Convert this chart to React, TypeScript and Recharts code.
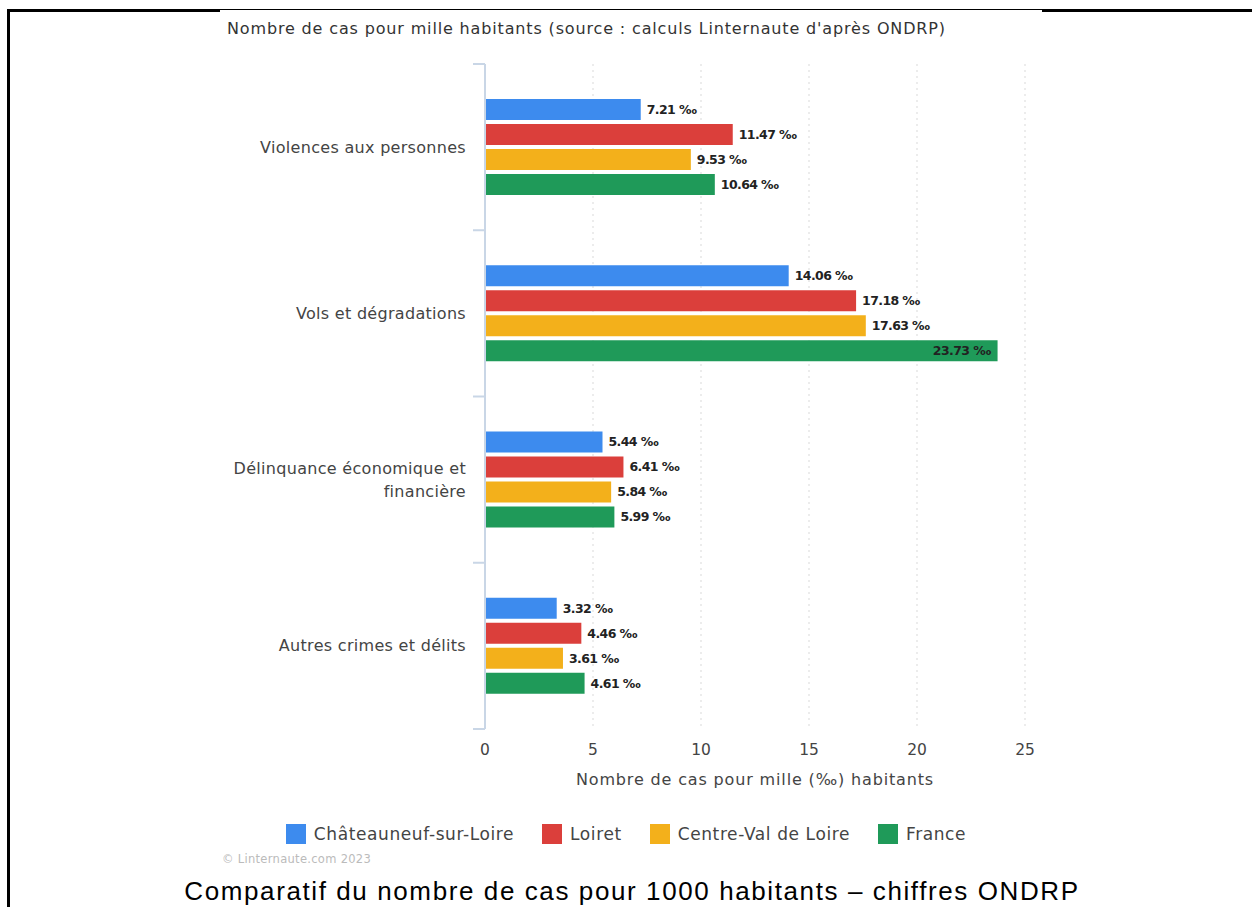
import React from 'react'
import { BarChart, Bar, XAxis, YAxis, CartesianGrid, LabelList } from 'recharts'

const categories = [
  'Violences aux personnes',
  'Vols et dégradations',
  'Délinquance économique et financière',
  'Autres crimes et délits',
]
const chateauneuf = [7.21, 14.06, 5.44, 3.32]
const loiret = [11.47, 17.18, 6.41, 4.46]
const centreVdl = [9.53, 17.63, 5.84, 3.61]
const france = [10.64, 23.73, 5.99, 4.61]
const seriesNames = ['Châteauneuf-sur-Loire', 'Loiret', 'Centre-Val de Loire', 'France']
const seriesColors = ['#3d8bee', '#db3f3b', '#f3b01b', '#1f9a59']
const xTicks = [0, 5, 10, 15, 20, 25]

const FONT = '"DejaVu Sans", sans-serif'
const AXIS_COLOR = '#c9d6e6'

// chart geometry
const CHART_W = 820
const CHART_H = 800
const MARGIN = { top: 64, right: 15, left: 0, bottom: 11 }
const X_AXIS_H = 60
const Y_AXIS_W = 265
const PLOT_H = CHART_H - MARGIN.top - MARGIN.bottom - X_AXIS_H
const BAND = PLOT_H / categories.length
const LABEL_GAP = 19

const data = categories.map((name, i) => ({
  name,
  s0: chateauneuf[i],
  s1: loiret[i],
  s2: centreVdl[i],
  s3: france[i],
}))

// wraps long category names like the original (max ~25 chars per line)
const wrap = (s: string, max = 25) => {
  const lines: string[] = []
  let cur = ''
  s.split(' ').forEach((w) => {
    const next = cur ? cur + ' ' + w : w
    if (next.length > max && cur) {
      lines.push(cur)
      cur = w
    } else cur = next
  })
  if (cur) lines.push(cur)
  return lines
}

const CatTick = (props: any) => {
  const { x, y, payload, index } = props
  const lines = wrap(payload.value)
  const lh = 23
  const start = y - ((lines.length - 1) * lh) / 2
  const ax = x + LABEL_GAP
  return (
    <g>
      {/* tick marks on the category boundaries */}
      <line x1={ax - 12} x2={ax} y1={y - BAND / 2} y2={y - BAND / 2} stroke={AXIS_COLOR} strokeWidth={2} />
      {index === categories.length - 1 && (
        <line x1={ax - 12} x2={ax} y1={y + BAND / 2} y2={y + BAND / 2} stroke={AXIS_COLOR} strokeWidth={2} />
      )}
      <text x={x} textAnchor="end" fill="#444" fontSize={16} letterSpacing={0.3} fontFamily={FONT}>
        {lines.map((l, i) => (
          <tspan key={i} x={x} y={start + i * lh} dy="0.35em">
            {l}
          </tspan>
        ))}
      </text>
    </g>
  )
}

const ValueLabel = (props: any) => {
  const { x, y, width, height, value } = props
  const txt = value.toFixed(2) + ' ‰'
  const inside = value > 22
  return (
    <text
      x={inside ? x + width - 7 : x + width + 6}
      y={y + height / 2}
      dy="0.35em"
      textAnchor={inside ? 'end' : 'start'}
      fill="#222"
      fontSize={12.5}
      fontWeight={700}
      fontFamily={FONT}
      letterSpacing={-0.6}
    >
      {txt}
    </text>
  )
}

const App = () => {
  return (
    <div style={{ position: 'fixed', left: 0, top: 0, width: 1253, height: 907, background: '#fff', overflow: 'hidden', fontFamily: FONT }}>
      {/* frame lines */}
      <div style={{ position: 'absolute', left: 7, top: 9, width: 3, height: 898, background: '#000' }} />
      <div style={{ position: 'absolute', left: 7, top: 9, width: 213, height: 3, background: '#000' }} />
      <div style={{ position: 'absolute', left: 220, top: 9, width: 822, height: 1, background: '#000' }} />
      <div style={{ position: 'absolute', left: 1042, top: 9, width: 210, height: 3, background: '#000' }} />

      <div style={{ position: 'absolute', left: 227, top: 19, fontSize: 16, letterSpacing: 0.85, color: '#333', whiteSpace: 'nowrap' }}>
        Nombre de cas pour mille habitants (source : calculs Linternaute d'après ONDRP)
      </div>

      <div style={{ position: 'absolute', left: 220, top: 0 }}>
        <BarChart
          width={CHART_W}
          height={CHART_H}
          data={data}
          layout="vertical"
          margin={MARGIN}
          barSize={21}
          barGap={4}
        >
          <CartesianGrid horizontal={false} stroke="#d9d9d9" strokeDasharray="2 4" />
          <XAxis
            type="number"
            domain={[0, 25]}
            ticks={xTicks}
            axisLine={false}
            tickLine={false}
            tickSize={0}
            tickMargin={15}
            height={X_AXIS_H}
            tick={{ fill: '#444', fontSize: 15.5, fontFamily: FONT }}
            label={{ value: 'Nombre de cas pour mille (‰) habitants', position: 'insideBottom', offset: 4, fill: '#444', fontSize: 16, letterSpacing: 0.85, fontFamily: FONT }}
          />
          <YAxis
            type="category"
            dataKey="name"
            width={Y_AXIS_W}
            axisLine={{ stroke: AXIS_COLOR, strokeWidth: 2 }}
            tickLine={false}
            tickSize={0}
            tickMargin={LABEL_GAP}
            tick={<CatTick />}
          />
          {['s0', 's1', 's2', 's3'].map((k, i) => (
            <Bar key={k} dataKey={k} name={seriesNames[i]} fill={seriesColors[i]} isAnimationActive={false}>
              <LabelList dataKey={k} content={<ValueLabel />} />
            </Bar>
          ))}
        </BarChart>
      </div>

      <div
        style={{
          position: 'absolute',
          left: 220,
          top: 824,
          width: 812,
          display: 'flex',
          justifyContent: 'center',
          gap: 28,
          fontSize: 17,
          letterSpacing: 0.6,
          color: '#444',
        }}
      >
        {seriesNames.map((n, i) => (
          <div key={n} style={{ display: 'flex', alignItems: 'center', gap: 8 }}>
            <span style={{ width: 20, height: 20, background: seriesColors[i], display: 'inline-block' }} />
            <span>{n}</span>
          </div>
        ))}
      </div>

      <div style={{ position: 'absolute', left: 222, top: 852, fontSize: 11.5, letterSpacing: 0.3, color: '#bbb' }}>© Linternaute.com 2023</div>

      <div
        style={{
          position: 'absolute',
          left: 0,
          width: 1264,
          top: 876,
          textAlign: 'center',
          fontFamily: '"Liberation Sans", Arial, sans-serif',
          fontSize: 26,
          letterSpacing: 1.6,
          color: '#000',
          whiteSpace: 'nowrap',
        }}
      >
        Comparatif du nombre de cas pour 1000 habitants – chiffres ONDRP
      </div>
    </div>
  )
}

export default App
